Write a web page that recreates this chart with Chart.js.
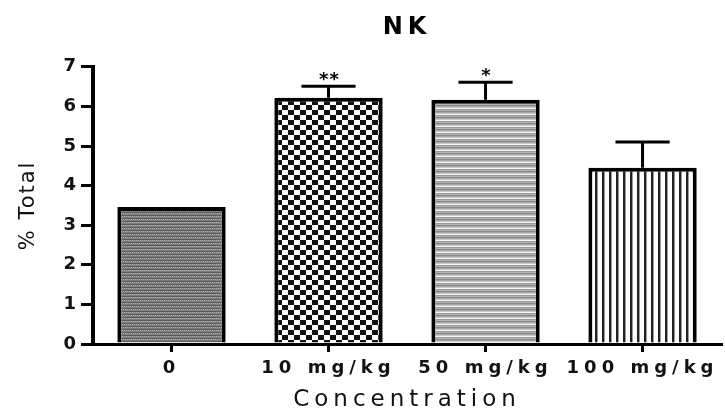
<!DOCTYPE html>
<html>
<head>
<meta charset="utf-8">
<title>NK</title>
<script src="https://cdn.jsdelivr.net/npm/chart.js@4.4.0/dist/chart.umd.min.js"></script>
<style>
  html, body { margin: 0; padding: 0; background: #fff; }
</style>
</head>
<body>
<canvas id="nkChart" width="725" height="415"></canvas>
<script>
// values (mean and upper SEM)
const categories = ['0', '10 mg/kg', '50 mg/kg', '100 mg/kg'];
const meanValues = [3.46, 6.22, 6.17, 4.45];
const semValues = [0, 0.29, 0.44, 0.65];
const starLabels = ['', '**', '*', ''];
const yTickValues = [0, 1, 2, 3, 4, 5, 6, 7];

const FONT = "'DejaVu Sans', sans-serif";
const SPACING = '5px'; // the original figure is stretched sideways

// small tiles for the hatch fills
function makeTile(w, h, paint) {
    const c = document.createElement('canvas');
    c.width = w;
    c.height = h;
    paint(c.getContext('2d'));
    return c;
}

function makePatterns(ctx) {
    const weave = makeTile(4, 6, function(t) {
        t.fillStyle = '#7e7e7e';
        t.fillRect(0, 0, 4, 6);
        t.fillStyle = '#b0b0b0';
        t.fillRect(0, 0, 1, 1);
        t.fillRect(2, 0, 1, 1);
        t.fillRect(1, 3, 1, 1);
        t.fillRect(3, 3, 1, 1);
        t.fillStyle = '#5c5c5c';
        t.fillRect(0, 2, 4, 1);
        t.fillRect(0, 5, 4, 1);
    });
    const checker = makeTile(12, 10, function(t) {
        t.fillStyle = '#fff';
        t.fillRect(0, 0, 12, 10);
        t.fillStyle = '#111';
        t.fillRect(0, 0, 6, 5);
        t.fillRect(6, 5, 6, 5);
    });
    const hLines = makeTile(1, 6, function(t) {
        const rows = ['#f4f4f4', '#9a9a9a', '#b4b4b4', '#888', '#a8a8a8', '#c8c8c8'];
        rows.forEach(function(col, i) {
            t.fillStyle = col;
            t.fillRect(0, i, 1, 1);
        });
    });
    const vLines = makeTile(7, 1, function(t) {
        t.fillStyle = '#fff';
        t.fillRect(0, 0, 7, 1);
        t.fillStyle = '#222';
        t.fillRect(0, 0, 2, 1);
        t.fillStyle = '#999';
        t.fillRect(2, 0, 1, 1);
    });
    return [weave, checker, hLines, vLines].map(function(tile) {
        return ctx.createPattern(tile, 'repeat');
    });
}

// stretched lettering like the source image
const spacingPlugin = {
    id: 'spacing',
    beforeLayout(chart) { chart.ctx.letterSpacing = SPACING; },
    beforeDraw(chart) { chart.ctx.letterSpacing = SPACING; }
};

// upper error bars and significance stars
const errorBarPlugin = {
    id: 'errorBars',
    afterDatasetsDraw(chart) {
        const ctx = chart.ctx;
        const yScale = chart.scales.y;
        const meta = chart.getDatasetMeta(0);
        ctx.save();
        ctx.strokeStyle = '#000';
        ctx.lineWidth = 3;
        meta.data.forEach(function(bar, i) {
            const sem = semValues[i];
            const yMean = yScale.getPixelForValue(meanValues[i]);
            const yTop = yScale.getPixelForValue(meanValues[i] + sem);
            if (sem > 0) {
                const half = bar.width * 0.25;
                ctx.beginPath();
                ctx.moveTo(bar.x, yMean);
                ctx.lineTo(bar.x, yTop);
                ctx.moveTo(bar.x - half, yTop);
                ctx.lineTo(bar.x + half, yTop);
                ctx.stroke();
            }
            if (starLabels[i]) {
                ctx.letterSpacing = '1px';
                ctx.fillStyle = '#000';
                ctx.font = 'bold 18px ' + FONT;
                ctx.textAlign = 'center';
                ctx.textBaseline = 'alphabetic';
                ctx.fillText(starLabels[i], bar.x + 1, yTop - 1);
            }
        });
        ctx.restore();
    }
};

// rotated y title, not stretched along its length
const yTitlePlugin = {
    id: 'yTitle',
    afterDraw(chart) {
        const ctx = chart.ctx;
        const area = chart.chartArea;
        ctx.save();
        ctx.letterSpacing = '2px';
        ctx.translate(29, (area.top + area.bottom) / 2);
        ctx.rotate(-Math.PI / 2);
        ctx.font = '21px ' + FONT;
        ctx.fillStyle = '#111';
        ctx.textAlign = 'center';
        ctx.textBaseline = 'middle';
        ctx.fillText('% Total', 0, 0);
        ctx.restore();
    }
};

function renderNkChart() {
    const ctx = document.getElementById('nkChart').getContext('2d');
    const fills = makePatterns(ctx);
    new Chart(ctx, {
        type: 'bar',
        data: {
            labels: categories,
            datasets: [{
                label: 'NK',
                data: meanValues,
                backgroundColor: fills,
                borderColor: '#000',
                borderWidth: 4,
                borderSkipped: 'start',
                barPercentage: 0.69,
                categoryPercentage: 1
            }]
        },
        options: {
            responsive: false,
            animation: false,
            layout: { padding: { top: 0, right: 2, bottom: 0, left: 0 } },
            plugins: {
                legend: { display: false },
                tooltip: { enabled: false },
                title: {
                    display: true,
                    text: 'NK',
                    fullSize: false,
                    color: '#000',
                    font: { family: FONT, size: 24, weight: 'bold' },
                    padding: { top: 13, bottom: 25 }
                }
            },
            scales: {
                x: {
                    afterFit: function(axis) { axis.height = 71; },
                    grid: {
                        offset: false,
                        drawOnChartArea: false,
                        drawTicks: true,
                        tickLength: 8,
                        color: '#000',
                        lineWidth: 3
                    },
                    border: { color: '#000', width: 3 },
                    ticks: {
                        color: '#111',
                        padding: 6,
                        maxRotation: 0,
                        autoSkip: false,
                        font: { family: FONT, size: 18, weight: 'bold' }
                    },
                    title: {
                        display: true,
                        text: 'Concentration',
                        color: '#111',
                        font: { family: FONT, size: 23 },
                        padding: { top: 0, bottom: 1 }
                    }
                },
                y: {
                    min: 0,
                    max: 7,
                    afterFit: function(axis) { axis.width = 93; },
                    afterBuildTicks: function(axis) {
                        axis.ticks = yTickValues.map(function(v) { return { value: v }; });
                    },
                    grid: {
                        drawOnChartArea: false,
                        drawTicks: true,
                        tickLength: 12,
                        color: '#000',
                        lineWidth: 3
                    },
                    border: { color: '#000', width: 4 },
                    ticks: {
                        color: '#111',
                        padding: 0,
                        font: { family: FONT, size: 18, weight: 'bold' }
                    }
                }
            }
        },
        plugins: [spacingPlugin, errorBarPlugin, yTitlePlugin]
    });
}

renderNkChart();
</script>
</body>
</html>
